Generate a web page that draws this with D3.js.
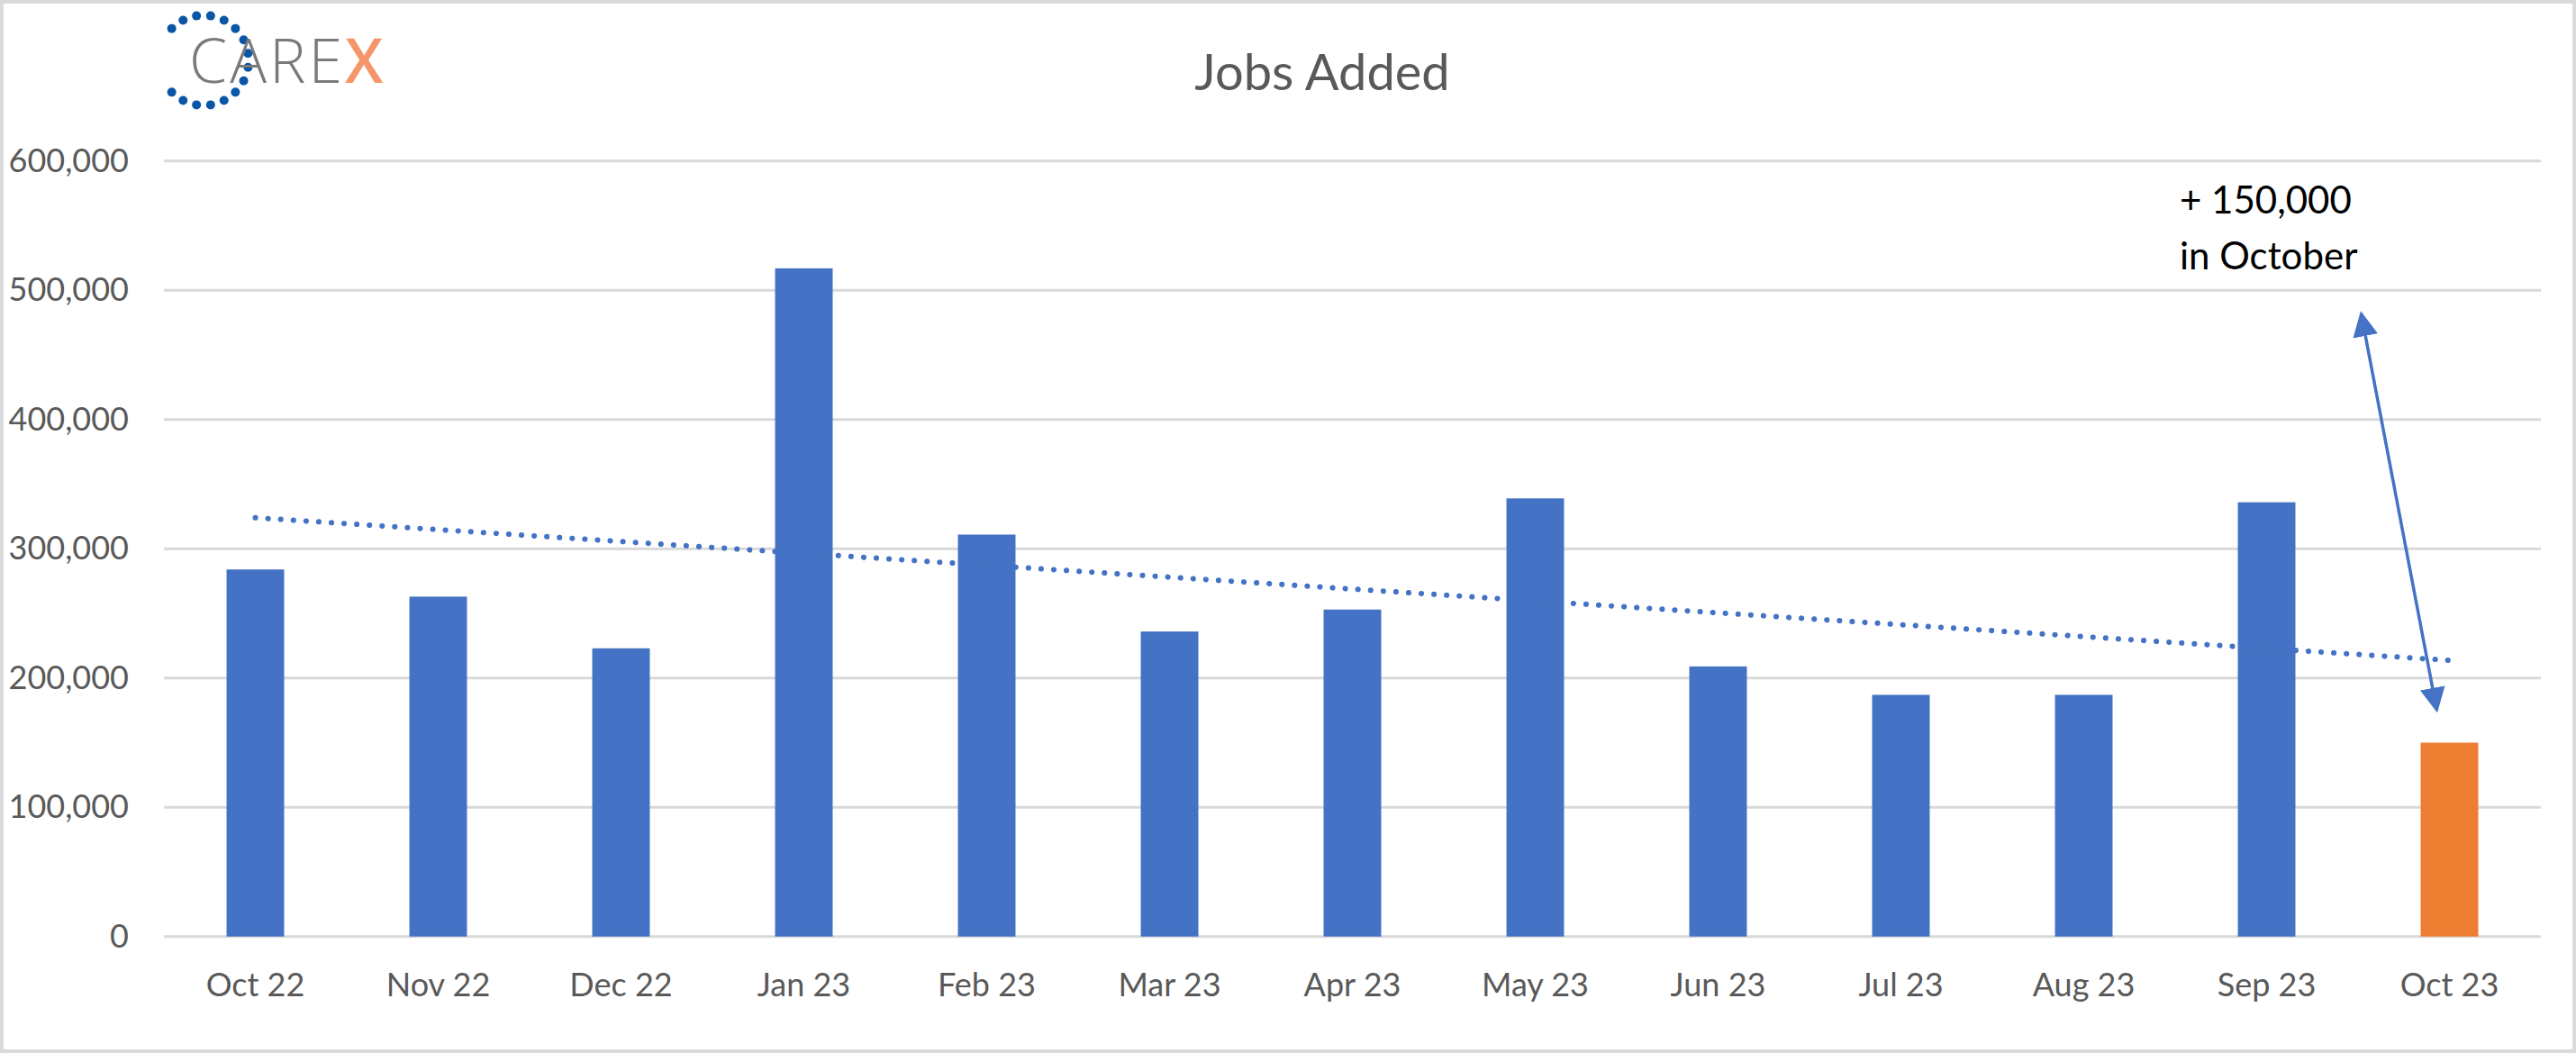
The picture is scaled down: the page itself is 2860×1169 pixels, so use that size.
<!DOCTYPE html>
<html><head><meta charset="utf-8">
<script src="https://cdn.jsdelivr.net/npm/d3@7"></script>
<style>body{margin:0;background:#fff}svg{display:block}</style></head>
<body><svg id="c" width="2860" height="1169"></svg>
<script>
const months = ["Oct 22","Nov 22","Dec 22","Jan 23","Feb 23","Mar 23","Apr 23","May 23","Jun 23","Jul 23","Aug 23","Sep 23","Oct 23"];
const jobs = [284000,263000,223000,517000,311000,236000,253000,339000,209000,187000,187000,336000,150000];
const yTicks = [0,100000,200000,300000,400000,500000,600000];
const title = "Jobs Added";
const note = ["+ 150,000","in October"];

const svg = d3.select("#c");
const font = "Lato, 'Open Sans', sans-serif";
svg.append("rect").attr("x",2).attr("y",2).attr("width",2856).attr("height",1165).attr("fill","#fff").attr("stroke","#d9d9d9").attr("stroke-width",4);

const x = d3.scaleBand().domain(months).range([182,2821]).paddingInner(0.685).paddingOuter(0.3425);
const y = d3.scaleLinear().domain([0,600000]).range([1039.7,178.8]);

svg.append("g").selectAll("line").data(yTicks).join("line")
 .attr("x1",182).attr("x2",2821).attr("y1",d=>y(d)).attr("y2",d=>y(d))
 .attr("stroke","#d9d9d9").attr("stroke-width",3);
svg.append("g").selectAll("text").data(yTicks).join("text")
 .attr("x",143).attr("y",d=>y(d)+12).attr("text-anchor","end")
 .attr("font-family",font).attr("font-size",36).attr("fill","#595959")
 .text(d=>d3.format(",")(d));

svg.append("g").selectAll("rect").data(months).join("rect")
 .attr("x",d=>x(d)).attr("width",x.bandwidth())
 .attr("y",(d,i)=>y(jobs[i])).attr("height",(d,i)=>y(0)-y(jobs[i]))
 .attr("fill",(d,i)=>i===months.length-1?"#ed7d31":"#4472c4");

svg.append("g").selectAll("text").data(months).join("text")
 .attr("x",d=>x(d)+x.bandwidth()/2).attr("y",1106).attr("text-anchor","middle")
 .attr("font-family",font).attr("font-size",36).attr("fill","#595959").text(d=>d);

// linear trend
const n=jobs.length, xs=d3.range(n), mx=d3.mean(xs), my=d3.mean(jobs);
const slope=d3.sum(xs,i=>(i-mx)*(jobs[i]-my))/d3.sum(xs,i=>(i-mx)**2), icpt=my-slope*mx;
const cx=i=>x(months[i])+x.bandwidth()/2;
svg.append("line").attr("x1",cx(0)).attr("x2",cx(n-1))
 .attr("y1",y(icpt)).attr("y2",y(icpt+slope*(n-1)))
 .attr("stroke","#4472c4").attr("stroke-width",6).attr("stroke-linecap","round")
 .attr("stroke-dasharray","0.1 14");

svg.append("text").attr("x",1468).attr("y",100).attr("text-anchor","middle")
 .attr("font-family",font).attr("font-size",56).attr("fill","#595959").text(title);

// annotation
svg.append("text").attr("font-family",font).attr("font-size",42).attr("fill","#000")
 .selectAll("tspan").data(note).join("tspan").attr("x",2420).attr("y",(d,i)=>237+i*62).text(d=>d);
const defs=svg.append("defs");
defs.append("marker").attr("id","ah").attr("viewBox","0 0 10 10").attr("refX",9).attr("refY",5)
 .attr("markerWidth",8).attr("markerHeight",8).attr("markerUnits","strokeWidth").attr("orient","auto-start-reverse")
 .append("path").attr("d","M0,0L10,5L0,10Z").attr("fill","#4472c4");
const last=cx(n-1);
svg.append("line").attr("x1",last-98).attr("y1",y(482000)).attr("x2",last-14).attr("y2",y(175000))
 .attr("stroke","#4472c4").attr("stroke-width",3.5)
 .attr("marker-start","url(#ah)").attr("marker-end","url(#ah)");

// logo
const logo=svg.append("g");
const nd=16;
for(let k=0;k<nd;k++){
  const a=(45+ k*(270/(nd-1)))*Math.PI/180;
  logo.append("circle").attr("cx",226-50*Math.cos(a)).attr("cy",67+50*Math.sin(a)).attr("r",5).attr("fill","#0a56a6");
}
logo.append("text").attr("x",210).attr("y",92).attr("font-family","'Open Sans',sans-serif").attr("font-weight",300)
 .attr("font-size",68).attr("letter-spacing",3).attr("fill","#7a7a7c").text("CARE")
 .append("tspan").attr("fill","#f5956a").attr("font-weight",600).text("X");
</script></body></html>
